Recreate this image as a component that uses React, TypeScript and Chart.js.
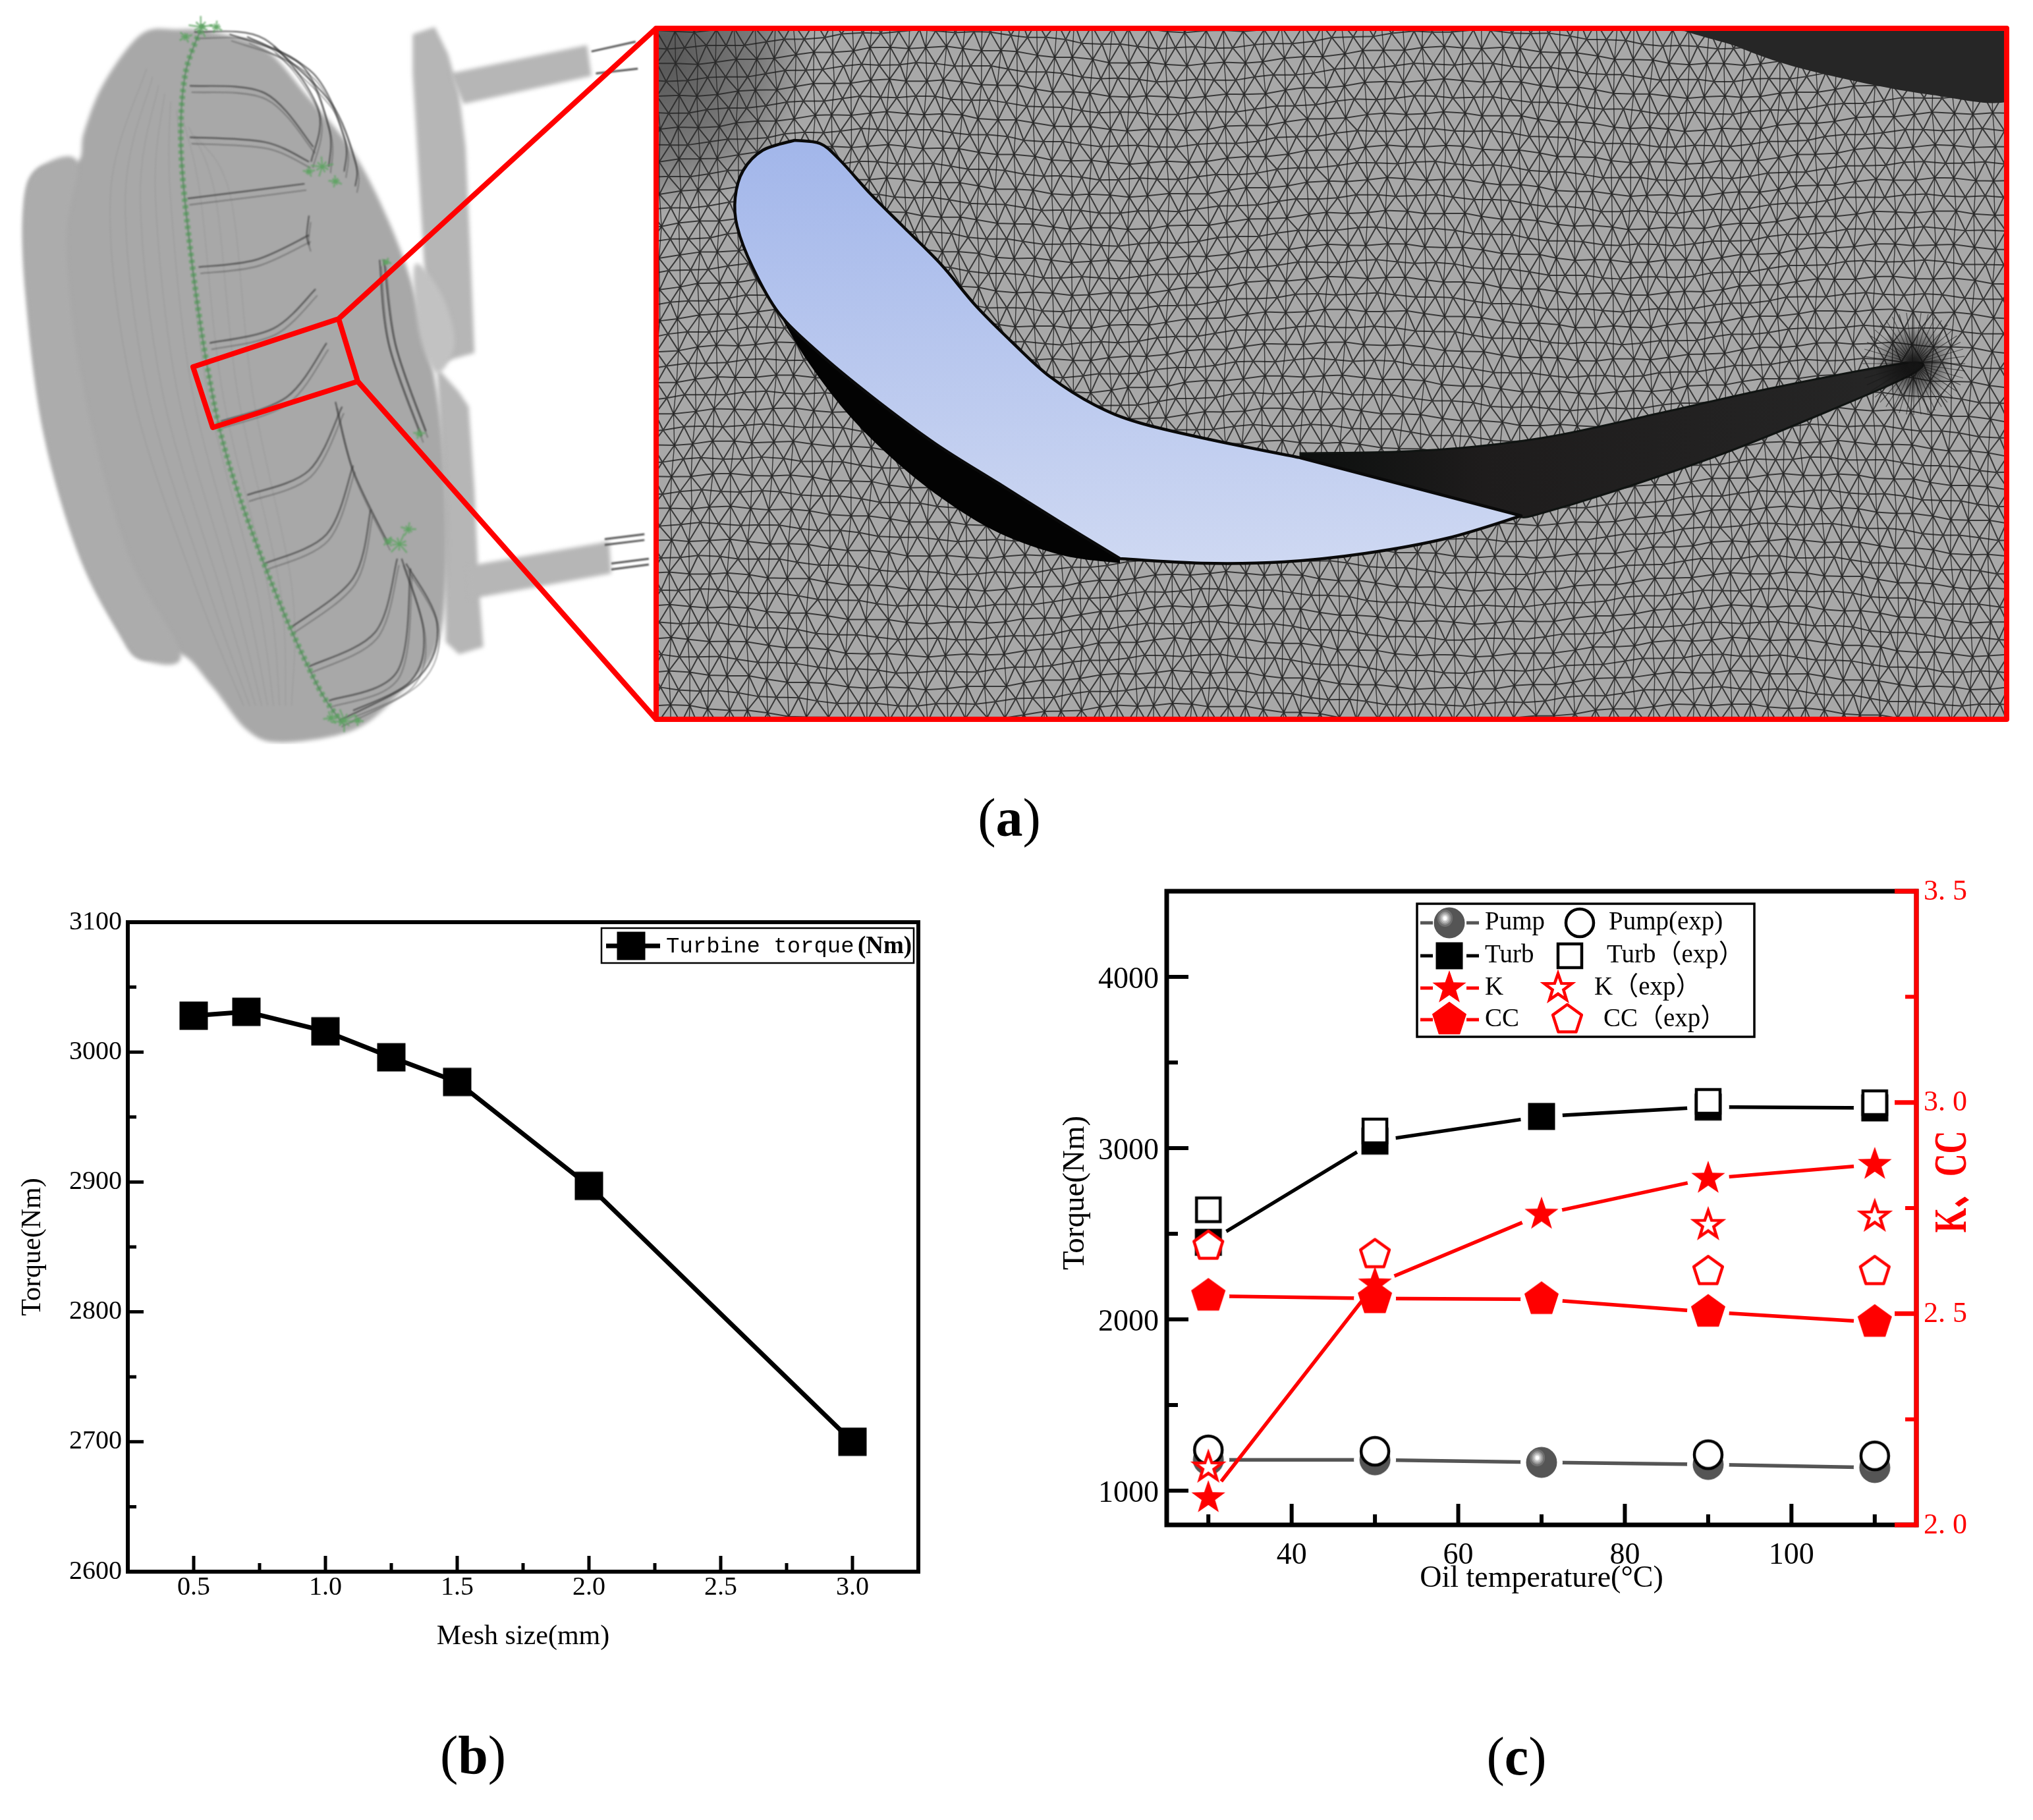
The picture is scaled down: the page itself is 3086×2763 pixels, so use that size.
import React, { useEffect, useRef } from "react";
import { Chart, registerables } from "chart.js";

Chart.register(...registerables);

// ---------- panel (b) data ----------
const meshSizes = [0.5, 0.7, 1.0, 1.25, 1.5, 2.0, 3.0];
const turbineTorque = [3028, 3031, 3016, 2996, 2977, 2897, 2700];
const meshMajorTicks = [0.5, 1.0, 1.5, 2.0, 2.5, 3.0];
const meshMinorTicks = [0.75, 1.25, 1.75, 2.25, 2.75];
const torqueMajorTicksB = [2600, 2700, 2800, 2900, 3000, 3100];
const torqueMinorTicksB = [2650, 2750, 2850, 2950, 3050];

// ---------- panel (c) data ----------
const oilTemps = [30, 50, 70, 90, 110];
const pumpTorque = [1180, 1180, 1165, 1153, 1135];
const pumpExp = [1238, 1230, null, 1210, 1203];
const turbTorque = [2450, 3041, 3185, 3240, 3235];
const turbExp = [2640, 3100, null, 3273, 3265];
const kValues = [2.064, 2.57, 2.735, 2.82, 2.853];
const kExp = [2.136, null, null, 2.71, 2.73];
const ccValues = [2.542, 2.536, 2.534, 2.504, 2.48];
const ccExp = [2.66, 2.64, null, 2.6, 2.6];
const oilMajorTicks = [40, 60, 80, 100];
const oilMinorTicks = [30, 50, 70, 90, 110];
const torqueMajorTicksC = [1000, 2000, 3000, 4000];
const torqueMinorTicksC = [1500, 2500, 3500];
const ratioMajorTicks = [2.0, 2.5, 3.0, 3.5];
const ratioMinorTicks = [2.25, 2.75, 3.25];
const ratioTickLabels = ["2. 0", "2. 5", "3. 0", "3. 5"];

const SERIF = '"Liberation Serif", "Noto Sans CJK SC"';
const RED = "#ff0000";

type P = [number, number];

function curveThrough(ctx: CanvasRenderingContext2D, pts: P[]) {
  const n = pts.length;
  const at = (i: number) => pts[Math.max(0, Math.min(n - 1, i))];
  for (let i = 0; i < n - 1; i++) {
    const p0 = at(i - 1), p1 = at(i), p2 = at(i + 1), p3 = at(i + 2);
    ctx.bezierCurveTo(
      p1[0] + (p2[0] - p0[0]) / 6, p1[1] + (p2[1] - p0[1]) / 6,
      p2[0] - (p3[0] - p1[0]) / 6, p2[1] - (p3[1] - p1[1]) / 6,
      p2[0], p2[1]
    );
  }
}

function smoothPath(ctx: CanvasRenderingContext2D, pts: P[], closed: boolean) {
  const n = pts.length;
  const at = (i: number) => (closed ? pts[(i + n) % n] : pts[Math.max(0, Math.min(n - 1, i))]);
  ctx.moveTo(pts[0][0], pts[0][1]);
  const last = closed ? n : n - 1;
  for (let i = 0; i < last; i++) {
    const p0 = at(i - 1), p1 = at(i), p2 = at(i + 1), p3 = at(i + 2);
    ctx.bezierCurveTo(
      p1[0] + (p2[0] - p0[0]) / 6, p1[1] + (p2[1] - p0[1]) / 6,
      p2[0] - (p3[0] - p1[0]) / 6, p2[1] - (p3[1] - p1[1]) / 6,
      p2[0], p2[1]
    );
  }
  if (closed) ctx.closePath();
}

function fillShape(ctx: CanvasRenderingContext2D, pts: P[], color: string | CanvasGradient) {
  ctx.beginPath();
  smoothPath(ctx, pts, true);
  ctx.fillStyle = color;
  ctx.fill();
}

function fillPoly(ctx: CanvasRenderingContext2D, pts: P[], color: string | CanvasGradient) {
  ctx.beginPath();
  pts.forEach((p, i) => (i ? ctx.lineTo(p[0], p[1]) : ctx.moveTo(p[0], p[1])));
  ctx.closePath();
  ctx.fillStyle = color;
  ctx.fill();
}

function strokeCurve(ctx: CanvasRenderingContext2D, pts: P[], color: string, w: number) {
  ctx.beginPath();
  smoothPath(ctx, pts, false);
  ctx.strokeStyle = color;
  ctx.lineWidth = w;
  ctx.stroke();
}

// ---------- panel (a): illustration ----------
const bodyOutline: P[] = [[400, 60], [480, 65], [600, 100], [700, 200], [800, 310], [880, 450], [940, 600], [990, 800], [1010, 1000], [1010, 1200], [985, 1330], [900, 1420], [800, 1490], [640, 1515], [560, 1490], [480, 1400], [410, 1335], [320, 1345], [270, 1290], [180, 1130], [100, 880], [60, 600], [55, 420], [85, 345], [175, 330], [190, 270], [235, 170], [320, 70]];
const topPlate: P[] = [[935, 70], [985, 55], [1015, 110], [1040, 190], [1055, 300], [1065, 500], [1075, 720], [1005, 738], [965, 600], [955, 450], [945, 300], [935, 150]];
const lowPlate: P[] = [[990, 750], [1040, 800], [1062, 830], [1075, 1000], [1085, 1200], [1095, 1320], [1040, 1335], [1010, 1310], [1005, 1000]];
const bladeCurves: P[][] = [
  [[440, 65], [600, 80], [720, 220], [705, 330]],
  [[430, 175], [600, 190], [710, 300]],
  [[430, 280], [600, 290], [700, 330]],
  [[425, 405], [560, 390], [690, 375]],
  [[450, 545], [580, 530], [700, 480]],
  [[475, 700], [620, 670], [715, 590]],
  [[500, 860], [650, 810], [740, 700]],
  [[560, 1010], [700, 960], [775, 830]],
  [[600, 1150], [740, 1090], [800, 950]],
  [[660, 1280], [800, 1180], [840, 1040]],
  [[700, 1360], [850, 1290], [900, 1140]],
  [[745, 1430], [900, 1370], [930, 1160]],
  [[770, 1470], [950, 1380], [990, 1270], [920, 1150]],
  [[800, 1450], [930, 1390], [960, 1290], [910, 1140]],
  [[520, 70], [680, 130], [745, 260], [745, 340]],
  [[560, 75], [710, 150], [780, 280], [780, 350]],
  [[620, 95], [750, 210], [805, 330], [805, 380]],
  [[700, 440], [695, 480], [700, 500]],
  [[860, 530], [880, 700], [955, 890]],
  [[870, 530], [895, 700], [965, 880]],
  [[760, 820], [800, 960], [880, 1110]],
];
const greenSeam: P[] = [[460, 50], [420, 150], [410, 300], [430, 500], [470, 750], [520, 950], [620, 1200], [720, 1400], [780, 1480]];
const bladeTop: P[] = [[1206, 213], [1245, 218], [1274, 242], [1322, 295], [1371, 344], [1429, 402], [1482, 465], [1540, 523], [1594, 572], [1662, 615], [1730, 642], [1840, 668], [1974, 695]];
const bladeBottom: P[] = [[2309, 783], [2197, 817], [2073, 840], [1949, 853], [1824, 855], [1700, 848]];
const bladeBack: P[] = [[1700, 848], [1613, 795], [1516, 734], [1419, 673], [1322, 601], [1240, 533], [1182, 475], [1143, 407], [1119, 344], [1116, 300], [1128, 259], [1158, 228], [1206, 213]];
const crescentOuter: P[] = [[1182, 475], [1225, 547], [1284, 625], [1351, 693], [1429, 756], [1516, 809], [1613, 843], [1700, 855]];
const wedge: P[] = [[1974, 688], [2115, 686], [2239, 678], [2363, 661], [2529, 625], [2695, 588], [2894, 551], [2904, 567], [2778, 623], [2612, 690], [2446, 747], [2330, 782], [2309, 785]];

function drawPicture(ctx: CanvasRenderingContext2D) {
  // left: the converter
  ctx.save();
  ctx.scale(0.67, 0.744);
  ctx.filter = "blur(3px)";
  fillPoly(ctx, topPlate, "#b6b6b6");
  fillPoly(ctx, lowPlate, "#b6b6b6");
  ctx.beginPath();
  ctx.moveTo(1020, 150); ctx.lineTo(1330, 92); ctx.lineTo(1340, 155); ctx.lineTo(1050, 212); ctx.closePath();
  ctx.moveTo(1060, 1155); ctx.lineTo(1380, 1105); ctx.lineTo(1385, 1170); ctx.lineTo(1065, 1222); ctx.closePath();
  ctx.fillStyle = "#b6b6b6";
  ctx.fill();
  fillShape(ctx, bodyOutline, "#a8a8a8");
  fillShape(ctx, [[270, 1290], [180, 1130], [100, 880], [60, 600], [55, 420], [85, 345], [175, 330], [150, 500], [190, 800], [290, 1130], [410, 1335], [320, 1345]], "#acacac");
  fillShape(ctx, [[940, 540], [1000, 600], [1030, 700], [990, 760], [950, 680]], "#c2c2c2");
  ctx.filter = "blur(1px)";
  for (const [a, b] of [[[1340, 105], [1440, 85]], [[1350, 150], [1445, 140]], [[1370, 1100], [1460, 1090]], [[1385, 1150], [1470, 1140]], [[1370, 1112], [1460, 1102]], [[1385, 1162], [1470, 1152]]] as P[][]) {
    ctx.beginPath(); ctx.moveTo(a[0], a[1]); ctx.lineTo(b[0], b[1]);
    ctx.strokeStyle = "#555"; ctx.lineWidth = 4; ctx.stroke();
  }
  for (let k = 0; k < 9; k++) {
    const d = 80 + k * 34;
    strokeCurve(ctx, [[300 + d * 0.4, 100 + d * 0.5], [170 + d, 400], [220 + d, 800], [380 + d * 0.8, 1200], [520 + d * 0.4, 1440]], "rgba(125,125,125,0.22)", 2);
  }
  for (const c of bladeCurves) {
    strokeCurve(ctx, c, "rgba(60,60,60,0.8)", 3);
    strokeCurve(ctx, c.map(([x, y]) => [x + 4, y + 13] as P), "rgba(70,70,70,0.5)", 2.5);
  }
  ctx.setLineDash([7, 7]);
  strokeCurve(ctx, greenSeam, "rgba(95,160,100,0.75)", 13);
  ctx.setLineDash([]);
  strokeCurve(ctx, greenSeam, "rgba(70,130,80,0.7)", 3);
  for (const [cx, cy, r] of [[455, 55, 28], [490, 55, 16], [420, 75, 16], [780, 1470, 30], [750, 1465, 18], [810, 1470, 14], [730, 340, 26], [700, 350, 14], [760, 370, 16], [905, 1110, 28], [925, 1080, 18], [880, 1105, 14], [875, 535, 12], [950, 885, 14]]) {
    for (let t = 0; t < 9; t++) {
      const a = (t * Math.PI * 2) / 9 + cx;
      const rr = r * (t % 2 ? 1 : 0.6);
      ctx.beginPath(); ctx.moveTo(cx, cy);
      ctx.lineTo(cx + rr * Math.cos(a), cy + rr * 0.8 * Math.sin(a));
      ctx.strokeStyle = "rgba(95,165,100,0.7)"; ctx.lineWidth = 4; ctx.stroke();
    }
  }
  ctx.restore();
  ctx.filter = "none";

  // right: the mesh view
  const x0 = 996, y0 = 43, w = 2050, h = 1049;
  ctx.save();
  ctx.beginPath(); ctx.rect(x0, y0, w, h); ctx.clip();
  ctx.fillStyle = "#a8a8a8"; ctx.fillRect(x0, y0, w, h);

  const drawMesh = (gap: number, lw: number, alpha: number) => {
    const cols = Math.ceil(w / gap) + 4, rows = Math.ceil(h / (gap * 0.86)) + 4;
    const node = (i: number, j: number): P => {
      const bx = x0 - gap * 2 + i * gap + (j % 2 ? gap / 2 : 0);
      const by = y0 - gap * 2 + j * gap * 0.86;
      const dx = 8 * Math.sin(bx / 170 + 1.3 * Math.sin(by / 210)) + 2 * Math.sin(i * 2.399 + j * 1.13);
      const dy = 13 * Math.sin(bx / 130 + by / 300) + 2 * Math.cos(i * 1.71 + j * 2.93);
      return [bx + dx, by + dy];
    };
    ctx.beginPath();
    for (let j = 0; j < rows; j++) {
      for (let i = 0; i < cols; i++) {
        const p = node(i, j);
        if (i + 1 < cols) { const q = node(i + 1, j); ctx.moveTo(p[0], p[1]); ctx.lineTo(q[0], q[1]); }
        if (j + 1 < rows) {
          const q = node(i, j + 1); ctx.moveTo(p[0], p[1]); ctx.lineTo(q[0], q[1]);
          const s = node(j % 2 ? Math.min(i + 1, cols - 1) : Math.max(i - 1, 0), j + 1); ctx.moveTo(p[0], p[1]); ctx.lineTo(s[0], s[1]);
        }
      }
    }
    ctx.strokeStyle = `rgba(28,28,28,${alpha})`;
    ctx.lineWidth = lw;
    ctx.stroke();
    ctx.beginPath();
    for (let j = 0; j + 2 < rows; j += 2) {
      for (let i = 0; i < cols; i++) {
        const p = node(i, j), q = node(i, j + 2);
        ctx.moveTo(p[0], p[1]); ctx.lineTo(q[0], q[1]);
      }
    }
    ctx.lineWidth = lw * 0.7;
    ctx.stroke();
  };
  drawMesh(29, 2, 0.8);

  // denser mesh, upper left
  const patch = ctx.createRadialGradient(x0, y0 + 40, 30, x0, y0 + 40, 240);
  patch.addColorStop(0, "rgba(40,40,40,0.6)");
  patch.addColorStop(0.6, "rgba(40,40,40,0.35)");
  patch.addColorStop(1, "rgba(40,40,40,0)");
  ctx.fillStyle = patch;
  ctx.fillRect(x0, y0, 300, 300);

  // black layers
  ctx.beginPath();
  smoothPath(ctx, crescentOuter, false);
  ctx.lineTo(1700, 848);
  curveThrough(ctx, bladeBack.slice(0, 7));
  ctx.closePath();
  ctx.fillStyle = "#030303"; ctx.fill();

  ctx.beginPath();
  smoothPath(ctx, wedge, false);
  ctx.lineTo(1974, 695);
  ctx.closePath();
  const wg = ctx.createLinearGradient(1974, 0, 2900, 0);
  wg.addColorStop(0, "#0c0f0e");
  wg.addColorStop(0.3, "#1e1c1c");
  wg.addColorStop(1, "#262626");
  ctx.fillStyle = wg; ctx.fill();
  ctx.strokeStyle = "#101412"; ctx.lineWidth = 3; ctx.stroke();

  fillShape(ctx, [[2560, 30], [3060, 30], [3060, 148], [2925, 143], [2750, 108], [2640, 72]], "#262626");

  const bx = 2905, by = 552;
  const burst = ctx.createRadialGradient(bx, by, 3, bx, by, 60);
  burst.addColorStop(0, "rgba(10,10,10,0.85)");
  burst.addColorStop(1, "rgba(10,10,10,0)");
  ctx.fillStyle = burst; ctx.fillRect(bx - 70, by - 70, 140, 140);
  ctx.beginPath();
  for (let t = 0; t < 44; t++) {
    const a = (t * Math.PI * 2) / 44;
    ctx.moveTo(bx, by); ctx.lineTo(bx + 78 * Math.cos(a), by + 78 * Math.sin(a));
  }
  ctx.strokeStyle = "rgba(25,25,25,0.6)"; ctx.lineWidth = 1.2; ctx.stroke();

  // the blade
  const grad = ctx.createLinearGradient(0, 213, 0, 855);
  grad.addColorStop(0, "#a2b6ea");
  grad.addColorStop(1, "#ced8f2");
  ctx.beginPath();
  smoothPath(ctx, bladeTop, false);
  ctx.lineTo(bladeBottom[0][0], bladeBottom[0][1]);
  curveThrough(ctx, bladeBottom);
  curveThrough(ctx, bladeBack);
  ctx.closePath();
  ctx.fillStyle = grad; ctx.fill();
  ctx.strokeStyle = "#0a0a0a"; ctx.lineWidth = 4.5; ctx.lineJoin = "round"; ctx.stroke();
  ctx.restore();

  // red callout
  ctx.strokeStyle = RED;
  ctx.lineWidth = 8;
  ctx.lineJoin = "round";
  ctx.strokeRect(x0, y0, w, h);
  ctx.beginPath();
  ctx.moveTo(293, 557); ctx.lineTo(514, 484); ctx.lineTo(543, 579); ctx.lineTo(323, 649); ctx.closePath();
  ctx.moveTo(514, 484); ctx.lineTo(x0, y0);
  ctx.moveTo(543, 579); ctx.lineTo(x0, y0 + h);
  ctx.stroke();
}

// ---------- markers ----------
function polygon(ctx: CanvasRenderingContext2D, c: number, radii: number[]) {
  ctx.beginPath();
  radii.forEach((r, i) => {
    const a = -Math.PI / 2 + (i * 2 * Math.PI) / radii.length;
    const x = c + r * Math.cos(a), y = c + r * Math.sin(a);
    i ? ctx.lineTo(x, y) : ctx.moveTo(x, y);
  });
  ctx.closePath();
}

function marker(kind: string, hollow: boolean, color: string, side = 41) {
  const cv = document.createElement("canvas");
  cv.width = cv.height = 64;
  const g = cv.getContext("2d")!;
  const c = 32;
  g.fillStyle = hollow ? "#fff" : color;
  g.strokeStyle = color;
  g.lineWidth = 4.5;
  if (kind === "square") {
    const s = hollow ? 36 : side;
    g.beginPath(); g.rect(c - s / 2, c - s / 2, s, s); g.fill();
    if (hollow) g.stroke();
  } else if (kind === "circle") {
    g.beginPath(); g.arc(c, c, hollow ? 21 : 23.5, 0, 2 * Math.PI); g.fill();
    if (hollow) g.stroke();
    else {
      const bands: [number, string][] = [[13, "#707070"], [10, "#949494"], [7.5, "#b8b8b8"], [5, "#dcdcdc"], [3, "#ffffff"]];
      for (const [r, col] of bands) {
        g.beginPath(); g.ellipse(c - 6.5, c - 7, r * 0.9, r, 0, 0, 2 * Math.PI);
        g.fillStyle = col; g.fill();
      }
    }
  } else if (kind === "star") {
    const R = hollow ? 22 : 27;
    const radii: number[] = [];
    for (let i = 0; i < 5; i++) radii.push(R, R * 0.4);
    polygon(g, c, radii);
    g.fill();
    if (hollow) g.stroke();
  } else if (kind === "pentagon") {
    const R = hollow ? 23 : 26.5;
    polygon(g, c, [R, R, R, R, R]);
    g.lineJoin = "round";
    g.fill();
    if (hollow) g.stroke();
    else { g.lineWidth = 1.5; g.stroke(); }
  }
  return cv;
}

function drawAxisTicks(ctx: CanvasRenderingContext2D, scale: any, values: number[], len: number, width: number, color: string, side: string) {
  const area = scale.chart.chartArea;
  ctx.save();
  ctx.strokeStyle = color;
  ctx.lineWidth = width;
  ctx.beginPath();
  for (const v of values) {
    const p = scale.getPixelForValue(v);
    if (side === "bottom") { ctx.moveTo(p, area.bottom); ctx.lineTo(p, area.bottom - len); }
    if (side === "left") { ctx.moveTo(area.left, p); ctx.lineTo(area.left + len, p); }
    if (side === "right") { ctx.moveTo(area.right, p); ctx.lineTo(area.right - len, p); }
  }
  ctx.stroke();
  ctx.restore();
}

function baseScale(min: number, max: number, ticks: number[], font: any, extra: any = {}) {
  return {
    type: "linear",
    min,
    max,
    afterBuildTicks: (s: any) => { s.ticks = ticks.map((value) => ({ value })); },
    grid: { display: false, drawTicks: false },
    border: { display: false },
    ticks: { font, color: "#000", autoSkip: false, maxRotation: 0, padding: 8, ...extra },
  };
}

// ---------- panel (b) ----------
const B = { left: 0, top: 1340, w: 1500, h: 1240, plotL: 194, plotR: 1394, plotT: 1400, plotB: 2386 };

function makeChartB(canvas: HTMLCanvasElement) {
  const square = marker("square", false, "#000", 43);
  const framePlugin = {
    id: "frameB",
    beforeDatasetsDraw(chart: any) {
      const { ctx, chartArea: a, scales } = chart;
      ctx.save();
      ctx.strokeStyle = "#000";
      ctx.lineWidth = 6;
      ctx.strokeRect(a.left, a.top, a.right - a.left, a.bottom - a.top);
      ctx.restore();
      drawAxisTicks(ctx, scales.x, meshMajorTicks, 24, 5, "#000", "bottom");
      drawAxisTicks(ctx, scales.x, meshMinorTicks, 13, 5, "#000", "bottom");
      drawAxisTicks(ctx, scales.y, torqueMajorTicksB, 24, 5, "#000", "left");
      drawAxisTicks(ctx, scales.y, torqueMinorTicksB, 13, 5, "#000", "left");
    },
    afterDatasetsDraw(chart: any) {
      const { ctx } = chart;
      const ox = -B.left, oy = -B.top;
      ctx.save();
      ctx.fillStyle = "#fff";
      ctx.strokeStyle = "#000";
      ctx.lineWidth = 2.5;
      ctx.fillRect(913 + ox, 1409 + oy, 474, 53);
      ctx.strokeRect(913 + ox, 1409 + oy, 474, 53);
      ctx.lineWidth = 7;
      ctx.beginPath(); ctx.moveTo(920 + ox, 1436 + oy); ctx.lineTo(1002 + ox, 1436 + oy); ctx.stroke();
      ctx.drawImage(square, 958 + ox - 32, 1436 + oy - 32);
      ctx.fillStyle = "#000";
      ctx.textBaseline = "middle";
      ctx.font = '34px "Liberation Mono"';
      ctx.fillText("Turbine torque", 1011 + ox, 1437 + oy);
      ctx.font = 'bold 37px "Liberation Serif"';
      ctx.fillText("(Nm)", 1302 + ox, 1437 + oy);
      ctx.restore();
    },
  };
  const font = { family: SERIF, size: 40 };
  const titleFont = { family: SERIF, size: 42 };
  return new Chart(canvas, {
    type: "line",
    data: {
      datasets: [{
        label: "Turbine torque(Nm)",
        data: meshSizes.map((x, i) => ({ x, y: turbineTorque[i] })),
        borderColor: "#000",
        borderWidth: 7,
        tension: 0,
        pointStyle: square as any,
        pointRadius: 20,
        clip: false as any,
      }],
    },
    options: {
      responsive: false,
      animation: false,
      layout: { padding: { top: B.plotT - B.top, right: B.left + B.w - B.plotR, left: 0, bottom: 0 } },
      plugins: { legend: { display: false }, tooltip: { enabled: false } },
      scales: {
        x: {
          ...baseScale(0.25, 3.25, meshMajorTicks, font, { padding: 0, callback: (v: number) => v.toFixed(1) }),
          afterFit: (s: any) => { s.height = B.top + B.h - B.plotB; },
          title: { display: true, text: "Mesh size(mm)", font: titleFont, color: "#000", padding: { top: 0, bottom: 70 } },
        },
        y: {
          ...baseScale(2600, 3100, torqueMajorTicksB, font, { padding: 9, callback: (v: number) => String(v) }),
          afterFit: (s: any) => { s.width = B.plotL - B.left; },
          title: { display: true, text: "Torque(Nm)", font: titleFont, color: "#000", padding: { top: 25, bottom: 0 } },
        },
      },
    } as any,
    plugins: [framePlugin],
  } as any);
}

// ---------- panel (c) ----------
const C = { left: 1560, top: 1310, w: 1526, h: 1200, plotL: 1771, plotR: 2909, plotT: 1353, plotB: 2315 };

function makeChartC(canvas: HTMLCanvasElement) {
  const pumpM = marker("circle", false, "#555555");
  const pumpE = marker("circle", true, "#000");
  const turbM = marker("square", false, "#000");
  const turbE = marker("square", true, "#000");
  const kM = marker("star", false, RED);
  const kE = marker("star", true, RED);
  const ccM = marker("pentagon", false, RED);
  const ccE = marker("pentagon", true, RED);

  const lines = [
    { label: "Pump", values: pumpTorque, axis: "y", color: "#555555", sym: pumpM },
    { label: "Turb", values: turbTorque, axis: "y", color: "#000000", sym: turbM },
    { label: "K", values: kValues, axis: "y2", color: RED, sym: kM },
    { label: "CC", values: ccValues, axis: "y2", color: RED, sym: ccM },
  ];
  const exps = [
    { label: "Pump(exp)", values: pumpExp, axis: "y", sym: pumpE },
    { label: "Turb（exp）", values: turbExp, axis: "y", sym: turbE },
    { label: "K（exp）", values: kExp, axis: "y2", sym: kE },
    { label: "CC（exp）", values: ccExp, axis: "y2", sym: ccE },
  ];
  const toData = (vals: (number | null)[]) => oilTemps.map((x, i) => ({ x, y: vals[i] }));
  const datasets: any[] = [];
  for (const s of lines) {
    datasets.push({
      label: s.label + " line", data: toData(s.values), yAxisID: s.axis, borderColor: s.color,
      borderWidth: 5.5, tension: 0, pointRadius: 0, gapLine: true, clip: false,
    });
  }
  for (const s of lines) {
    datasets.push({
      label: s.label, data: toData(s.values), yAxisID: s.axis, showLine: false,
      pointStyle: s.sym, pointRadius: 20, clip: false,
    });
  }
  for (const s of exps) {
    datasets.push({
      label: s.label, data: toData(s.values), yAxisID: s.axis, showLine: false,
      pointStyle: s.sym, pointRadius: 20, clip: false,
    });
  }
  datasets.forEach((d, i) => { d.order = datasets.length - i; });

  const gapPlugin = {
    id: "gapLine",
    beforeDatasetDraw(chart: any, args: any) {
      const ds = chart.data.datasets[args.index];
      if (!ds.gapLine) return;
      const { ctx, width, height } = chart;
      ctx.save();
      ctx.beginPath();
      ctx.rect(0, 0, width, height);
      for (const pt of args.meta.data) {
        ctx.moveTo(pt.x + 32, pt.y);
        ctx.arc(pt.x, pt.y, 32, 0, 2 * Math.PI);
      }
      ctx.clip("evenodd");
    },
    afterDatasetDraw(chart: any, args: any) {
      if (chart.data.datasets[args.index].gapLine) chart.ctx.restore();
    },
  };

  const legendRows = [
    { y: 1401, label: "Pump", sym: pumpM, color: "#555555", ex: 2398, exLabel: "Pump(exp)", exX: 2442, exSym: pumpE },
    { y: 1451, label: "Turb", sym: turbM, color: "#000000", ex: 2383, exLabel: "Turb（exp）", exX: 2439, exSym: turbE },
    { y: 1500, label: "K", sym: kM, color: RED, ex: 2365, exLabel: "K（exp）", exX: 2420, exSym: kE },
    { y: 1548, label: "CC", sym: ccM, color: RED, ex: 2379, exLabel: "CC（exp）", exX: 2434, exSym: ccE },
  ];

  const framePlugin = {
    id: "frameC",
    beforeDatasetsDraw(chart: any) {
      const { ctx, chartArea: a, scales } = chart;
      ctx.save();
      ctx.strokeStyle = "#000";
      ctx.lineWidth = 7;
      ctx.strokeRect(a.left, a.top, a.right - a.left, a.bottom - a.top);
      ctx.restore();
      drawAxisTicks(ctx, scales.x, oilMajorTicks, 32, 6, "#000", "bottom");
      drawAxisTicks(ctx, scales.x, oilMinorTicks, 16, 6, "#000", "bottom");
      drawAxisTicks(ctx, scales.y, torqueMajorTicksC, 33, 6, "#000", "left");
      drawAxisTicks(ctx, scales.y, torqueMinorTicksC, 17, 6, "#000", "left");
      ctx.save();
      ctx.strokeStyle = RED;
      ctx.lineWidth = 7;
      ctx.beginPath(); ctx.moveTo(a.right, a.top - 3.5); ctx.lineTo(a.right, a.bottom + 3.5); ctx.stroke();
      ctx.restore();
      drawAxisTicks(ctx, scales.y2, ratioMajorTicks, 33, 7, RED, "right");
      drawAxisTicks(ctx, scales.y2, ratioMinorTicks, 17, 6, RED, "right");
    },
    afterDatasetsDraw(chart: any) {
      const { ctx } = chart;
      const ox = -C.left, oy = -C.top;
      ctx.save();
      ctx.fillStyle = "#fff";
      ctx.strokeStyle = "#000";
      ctx.lineWidth = 3.5;
      ctx.fillRect(2151 + ox, 1372 + oy, 512, 202);
      ctx.strokeRect(2151 + ox, 1372 + oy, 512, 202);
      ctx.textBaseline = "middle";
      ctx.font = `39px ${SERIF}`;
      for (const r of legendRows) {
        ctx.strokeStyle = r.color;
        ctx.lineWidth = 5;
        ctx.beginPath();
        ctx.moveTo(2156 + ox, r.y + oy); ctx.lineTo(2175 + ox, r.y + oy);
        ctx.moveTo(2226 + ox, r.y + oy); ctx.lineTo(2245 + ox, r.y + oy);
        ctx.stroke();
        ctx.drawImage(r.sym, 2200 + ox - 32, r.y + oy - 32);
        ctx.drawImage(r.exSym, r.ex + ox - 32, r.y + oy - 32);
        ctx.fillStyle = "#000";
        ctx.fillText(r.label, 2254 + ox, r.y + oy);
        ctx.fillText(r.exLabel, r.exX + ox, r.y + oy);
      }
      ctx.restore();

      // rotated axis titles placed off-centre, as in the figure
      ctx.save();
      ctx.translate(1633 + ox, 1811 + oy);
      ctx.rotate(-Math.PI / 2);
      ctx.textAlign = "center";
      ctx.textBaseline = "middle";
      ctx.fillStyle = "#000";
      ctx.font = `47px ${SERIF}`;
      ctx.fillText("Torque(Nm)", 0, 0);
      ctx.restore();
      ctx.save();
      ctx.translate(2966 + ox, 1794 + oy);
      ctx.rotate(-Math.PI / 2);
      ctx.scale(1, 1.45);
      ctx.textAlign = "center";
      ctx.textBaseline = "middle";
      ctx.fillStyle = RED;
      ctx.font = `bold 48px ${SERIF}`;
      ctx.fillText("K、CC", 0, 0);
      ctx.restore();
    },
  };

  const font = { family: SERIF, size: 46 };
  return new Chart(canvas, {
    type: "line",
    data: { datasets },
    options: {
      responsive: false,
      animation: false,
      layout: { padding: { top: C.plotT - C.top, left: 0, right: 0, bottom: 0 } },
      plugins: { legend: { display: false }, tooltip: { enabled: false } },
      scales: {
        x: {
          ...baseScale(25, 115, oilMajorTicks, font, { padding: 19, callback: (v: number) => String(v) }),
          afterFit: (s: any) => { s.height = C.top + C.h - C.plotB; },
          title: { display: true, text: "Oil temperature(°C)", font, color: "#000", padding: { top: 0, bottom: 85 } },
        },
        y: {
          ...baseScale(800, 4500, torqueMajorTicksC, font, { padding: 12, labelOffset: 5, callback: (v: number) => String(v) }),
          afterFit: (s: any) => { s.width = C.plotL - C.left; },
        },
        y2: {
          ...baseScale(2, 3.5, ratioMajorTicks, { family: SERIF, size: 44 }, { padding: 11, labelOffset: 1, color: RED, callback: (_: number, i: number) => ratioTickLabels[i] }),
          position: "right",
          afterFit: (s: any) => { s.width = C.left + C.w - C.plotR; },
        },
      },
    } as any,
    plugins: [gapPlugin, framePlugin],
  } as any);
}

const labelStyle = (cx: number, cy: number): React.CSSProperties => ({
  position: "absolute",
  left: cx - 100,
  width: 200,
  top: cy - 50,
  height: 100,
  lineHeight: "100px",
  textAlign: "center",
  fontFamily: '"Liberation Serif"',
  fontSize: 82,
  color: "#000",
});

export default function App() {
  const picRef = useRef<HTMLCanvasElement>(null);
  const bRef = useRef<HTMLCanvasElement>(null);
  const cRef = useRef<HTMLCanvasElement>(null);

  useEffect(() => {
    const pic = picRef.current!;
    const g = pic.getContext("2d")!;
    g.clearRect(0, 0, pic.width, pic.height);
    drawPicture(g);
    const b = makeChartB(bRef.current!);
    const c = makeChartC(cRef.current!);
    return () => { b.destroy(); c.destroy(); };
  }, []);

  const abs = (l: number, t: number): React.CSSProperties => ({ position: "absolute", left: l, top: t, display: "block" });

  return (
    <div style={{ position: "absolute", left: 0, top: 0, width: 3086, height: 2763, background: "#fff", overflow: "hidden" }}>
      <canvas ref={picRef} width={3086} height={1130} style={abs(0, 0)} />
      <canvas ref={bRef} width={B.w} height={B.h} style={abs(B.left, B.top)} />
      <canvas ref={cRef} width={C.w} height={C.h} style={abs(C.left, C.top)} />
      <div style={labelStyle(1532, 1242)}>(<b>a</b>)</div>
      <div style={labelStyle(718, 2665)}>(<b>b</b>)</div>
      <div style={labelStyle(2302, 2667)}>(<b>c</b>)</div>
    </div>
  );
}
